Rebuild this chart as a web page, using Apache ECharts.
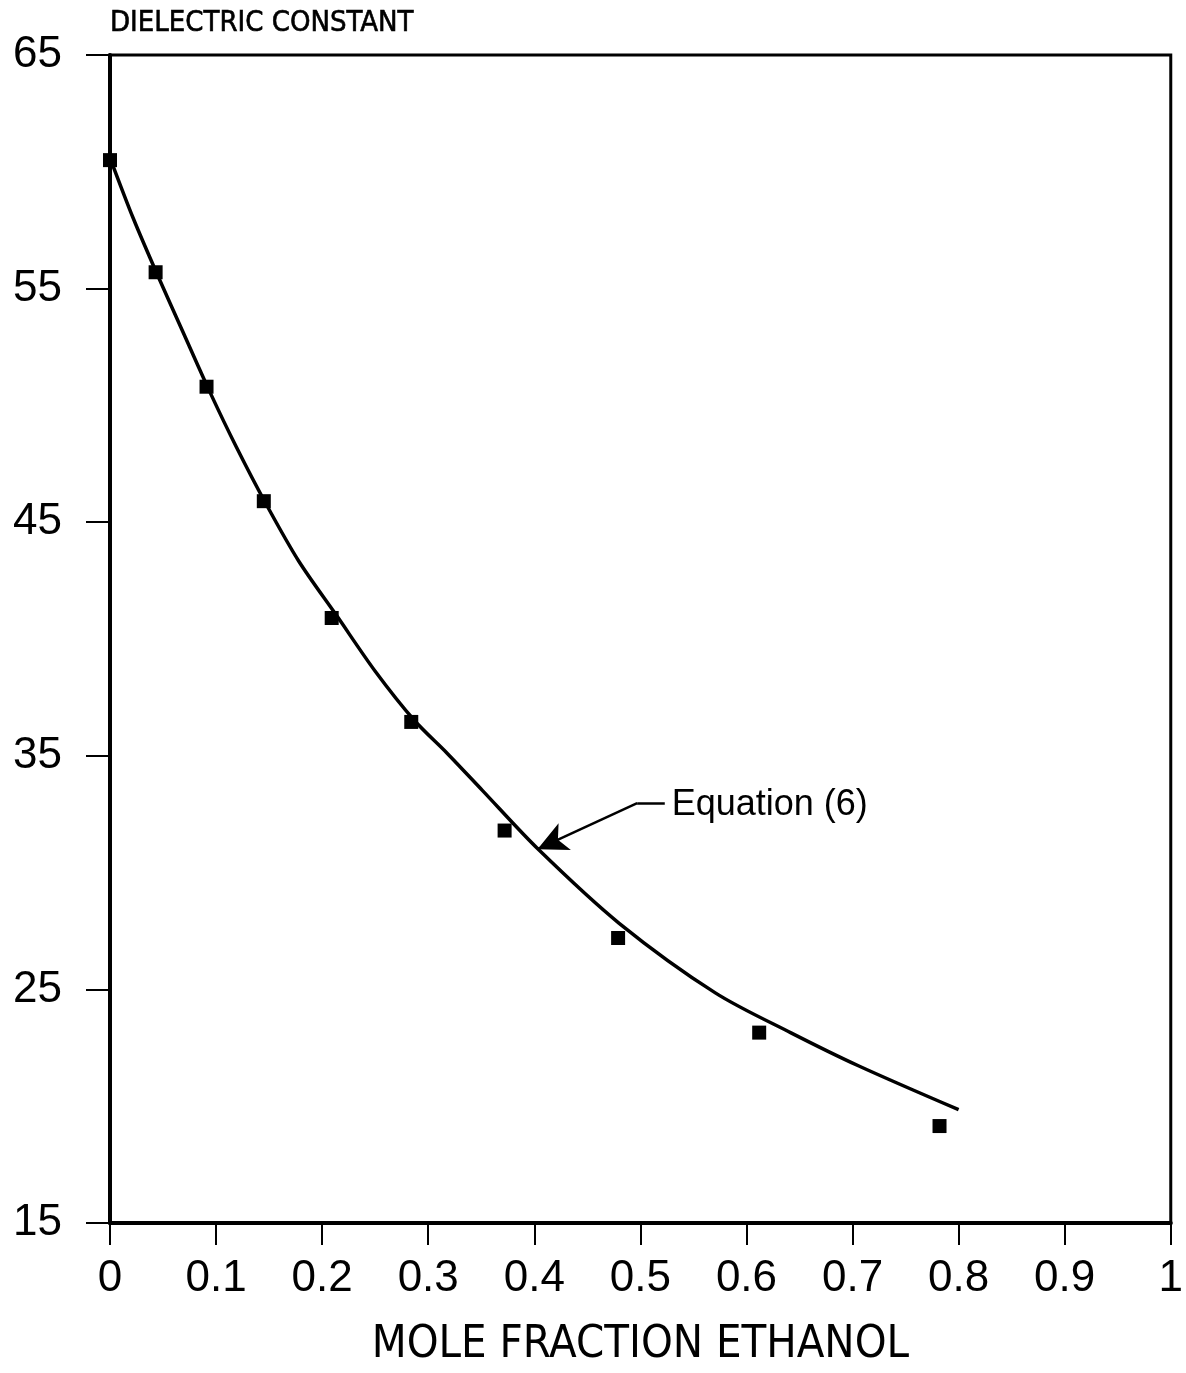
<!DOCTYPE html>
<html>
<head>
<meta charset="utf-8">
<script src="https://cdn.jsdelivr.net/npm/echarts@6/dist/echarts.min.js"></script>
<style>
  html, body { margin: 0; padding: 0; background: #fff; }
  #main { width: 1186px; height: 1373px; }
</style>
</head>
<body>
<div id="main"></div>
<script>
// measured points (mole fraction ethanol, dielectric constant)
var moleFraction = [0, 0.043, 0.091, 0.145, 0.209, 0.284, 0.372, 0.479, 0.612, 0.782];
var dielectric = [60.5, 55.7, 50.8, 45.9, 40.9, 36.45, 31.8, 27.2, 23.15, 19.15];

// Equation (6) curve
var curveX = [0, 0.022, 0.045, 0.069, 0.094, 0.119, 0.147, 0.178, 0.214, 0.25, 0.287, 0.318, 0.351, 0.403, 0.48, 0.571, 0.642, 0.706, 0.8];
var curveY = [60.6, 58.0, 55.56, 53.12, 50.59, 48.23, 45.79, 43.33, 40.98, 38.62, 36.51, 35.1, 33.52, 31.03, 27.83, 24.84, 23.14, 21.72, 19.85];

// annotation: label anchor, arrow elbow, arrow tip
var noteText = 'Equation (6)';
var noteAt = [0.5295, 32.9];
var arrowPath = [[0.523, 32.97], [0.497, 32.97], [0.403, 31.0]];

var dom = document.getElementById('main');
var myChart = echarts.init(dom);

var pts = moleFraction.map(function (x, i) { return [x, dielectric[i]]; });
var curve = curveX.map(function (x, i) { return [x, curveY[i]]; });

var labelFont = "'Liberation Sans', Arial, sans-serif";
var narrowFont = "'Liberation Sans Narrow', 'DejaVu Sans Condensed', 'Liberation Sans', sans-serif";

var option = {
  backgroundColor: '#fff',
  animation: false,
  grid: {
    left: 110,
    right: 9,
    top: 55,
    bottom: 145,
    show: true,
    borderColor: '#000',
    borderWidth: 3
  },
  xAxis: {
    type: 'value',
    min: 0,
    max: 1,
    interval: 0.1,
    name: 'MOLE FRACTION ETHANOL',
    nameLocation: 'middle',
    nameGap: 100,
    nameTextStyle: { fontFamily: narrowFont, fontSize: 45, color: '#000' },
    axisLine: { onZero: false, lineStyle: { color: '#000', width: 4 } },
    axisTick: { show: true, inside: false, length: 22, lineStyle: { color: '#000', width: 2 } },
    axisLabel: { margin: 34, fontFamily: labelFont, fontSize: 44, color: '#000' },
    splitLine: { show: false }
  },
  yAxis: {
    type: 'value',
    min: 15,
    max: 65,
    interval: 10,
    name: 'DIELECTRIC CONSTANT',
    nameLocation: 'end',
    nameGap: 32,
    nameTextStyle: {
      fontFamily: narrowFont, fontSize: 29, color: '#000',
      textBorderColor: '#000', textBorderWidth: 0.6,
      align: 'left', verticalAlign: 'middle'
    },
    axisLine: { lineStyle: { color: '#000', width: 4 } },
    axisTick: { show: true, inside: false, length: 24, lineStyle: { color: '#000', width: 2 } },
    axisLabel: { margin: 48, fontFamily: labelFont, fontSize: 44, color: '#000' },
    splitLine: { show: false }
  },
  series: [{
    name: 'Equation (6)',
    type: 'line',
    data: curve,
    smooth: 0.3,
    showSymbol: false,
    lineStyle: { color: '#000', width: 3.5 },
    z: 2
  }, {
    name: 'measured',
    type: 'scatter',
    data: pts,
    symbol: 'rect',
    symbolSize: 14,
    itemStyle: { color: '#000', opacity: 1 },
    z: 3
  }, {
    name: 'note',
    type: 'scatter',
    data: [noteAt],
    symbolSize: 0,
    itemStyle: { color: '#000', opacity: 1 },
    label: {
      show: true,
      position: 'right',
      distance: 0,
      formatter: noteText,
      fontFamily: labelFont,
      fontSize: 36,
      color: '#000'
    },
    markLine: {
      silent: true,
      animation: false,
      label: { show: false },
      lineStyle: { color: '#000', width: 2.5, type: 'solid', opacity: 1 },
      data: [
        [{ coord: arrowPath[0], symbol: 'none' }, { coord: arrowPath[1], symbol: 'none' }],
        [{ coord: arrowPath[1], symbol: 'none' }, { coord: arrowPath[2], symbol: 'arrow', symbolSize: [22, 30] }]
      ]
    },
    z: 4
  }]
};

myChart.setOption(option);
window.onresize = function () {
  myChart.resize();
};
</script>
</body>
</html>
